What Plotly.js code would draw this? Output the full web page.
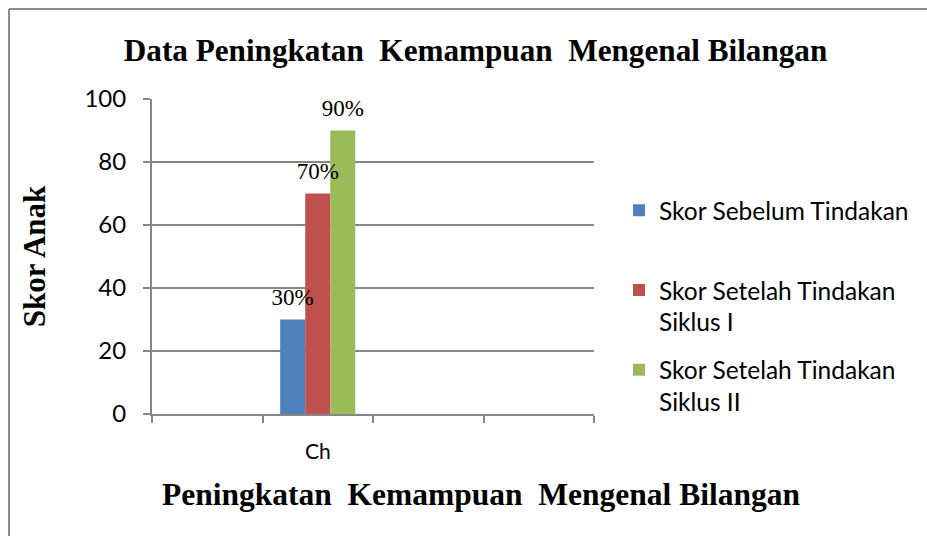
<!DOCTYPE html>
<html>
<head>
<meta charset="utf-8">
<script src="https://cdn.plot.ly/plotly-3.0.1.min.js"></script>
<style>
html,body{margin:0;padding:0;background:#fff;overflow:hidden;width:927px;height:536px;}
#chart{width:927px;height:536px;}
</style>
</head>
<body>
<div id="chart"></div>
<script>
// categories (only the second slot is labelled in the reference)
const categories = [" ", "Ch", "  ", "   "];
const seriesNames = [
  "Skor Sebelum Tindakan<br> ",
  "Skor Setelah Tindakan<br>Siklus I",
  "Skor Setelah Tindakan<br>Siklus II"
];
const sebelum = [null, 30, null, null];
const siklus1 = [null, 70, null, null];
const siklus2 = [null, 90, null, null];
const colors = ["#4F81BD", "#C0504D", "#9BBB59"];
const yTicks = [0, 20, 40, 60, 80, 100];

const seriesValues = [sebelum, siklus1, siklus2];
const serif = "Liberation Serif";
const sans = "Lato";

const barTraces = seriesValues.map((vals, i) => ({
  type: "bar",
  x: categories,
  y: vals,
  name: seriesNames[i],
  legendgroup: "g" + i,
  offsetgroup: "o" + i,
  marker: {color: colors[i]},
  hoverinfo: "none"
}));

// value labels, aligned with the grouped bars
const labelTraces = seriesValues.map((vals, i) => ({
  type: "scatter",
  mode: "markers+text",
  x: categories,
  y: vals,
  offsetgroup: "o" + i,
  showlegend: false,
  marker: {size: 12, opacity: 0, color: colors[i]},
  text: vals.map(v => v === null ? "" : v + "%"),
  textposition: "top center",
  textfont: {family: "Liberation Serif, Times New Roman, serif", size: 23, color: "#000"},
  cliponaxis: false,
  hoverinfo: "none"
}));

const frameColor = "#8c8c8c";

const layout = {
  width: 927, height: 536,
  margin: {l: 152, r: 333, t: 99, b: 122},
  paper_bgcolor: "#fff",
  plot_bgcolor: "#fff",
  barmode: "group",
  bargap: 0.32,
  bargroupgap: 0,
  scattermode: "group",
  scattergap: 0.32,
  title: {
    text: "<b>Data Peningkatan  Kemampuan  Mengenal Bilangan</b>",
    font: {family: serif, size: 31.2, color: "#000"},
    xref: "container", yref: "container",
    x: 0.513, y: 0.907, xanchor: "center", yanchor: "middle"
  },
  xaxis: {
    type: "category",
    categoryorder: "array",
    categoryarray: categories,
    tickson: "boundaries",
    ticks: "outside", ticklen: 7, tickwidth: 2, tickcolor: "#878787",
    showline: true, linecolor: "#878787", linewidth: 2,
    showgrid: false, zeroline: false,
    tickfont: {family: sans, size: 21, color: "#000"},
    ticklabelstandoff: 18,
    fixedrange: true
  },
  yaxis: {
    range: [0, 100],
    tickvals: yTicks,
    ticks: "outside", ticklen: 7, tickwidth: 2, tickcolor: "#878787",
    showline: true, linecolor: "#878787", linewidth: 2,
    showgrid: true, gridcolor: "#878787", gridwidth: 1.5,
    zeroline: false,
    tickfont: {family: sans, size: 24, color: "#000"},
    ticklabelstandoff: 12,
    title: {text: "<b>Skor Anak</b>", font: {family: serif, size: 31, color: "#000"}, standoff: 30},
    fixedrange: true
  },
  legend: {
    x: 1.0566, y: 0.718, xanchor: "left", yanchor: "top",
    font: {family: sans, size: 24.5, color: "#000"},
    valign: "top",
    traceorder: "grouped",
    tracegroupgap: 13,
    bgcolor: "rgba(0,0,0,0)",
    bordercolor: "rgba(0,0,0,0)",
    borderwidth: 0
  },
  annotations: [{
    text: "<b>Peningkatan  Kemampuan  Mengenal Bilangan</b>",
    xref: "paper", yref: "paper",
    x: 0.744, y: -0.257, xanchor: "center", yanchor: "middle",
    showarrow: false,
    font: {family: serif, size: 31.5, color: "#000"}
  }],
  shapes: [
    {type: "line", xref: "paper", yref: "paper", x0: -0.3235, x1: 1.8, y0: 1.2857, y1: 1.2857,
     line: {color: frameColor, width: 2}, layer: "below"},
    {type: "line", xref: "paper", yref: "paper", x0: -0.3235, x1: -0.3235, y0: 1.2857, y1: -0.4,
     line: {color: frameColor, width: 2}, layer: "below"}
  ],
  showlegend: true
};

Plotly.newPlot("chart", barTraces.concat(labelTraces), layout, {displayModeBar: false, staticPlot: true});
</script>
</body>
</html>
